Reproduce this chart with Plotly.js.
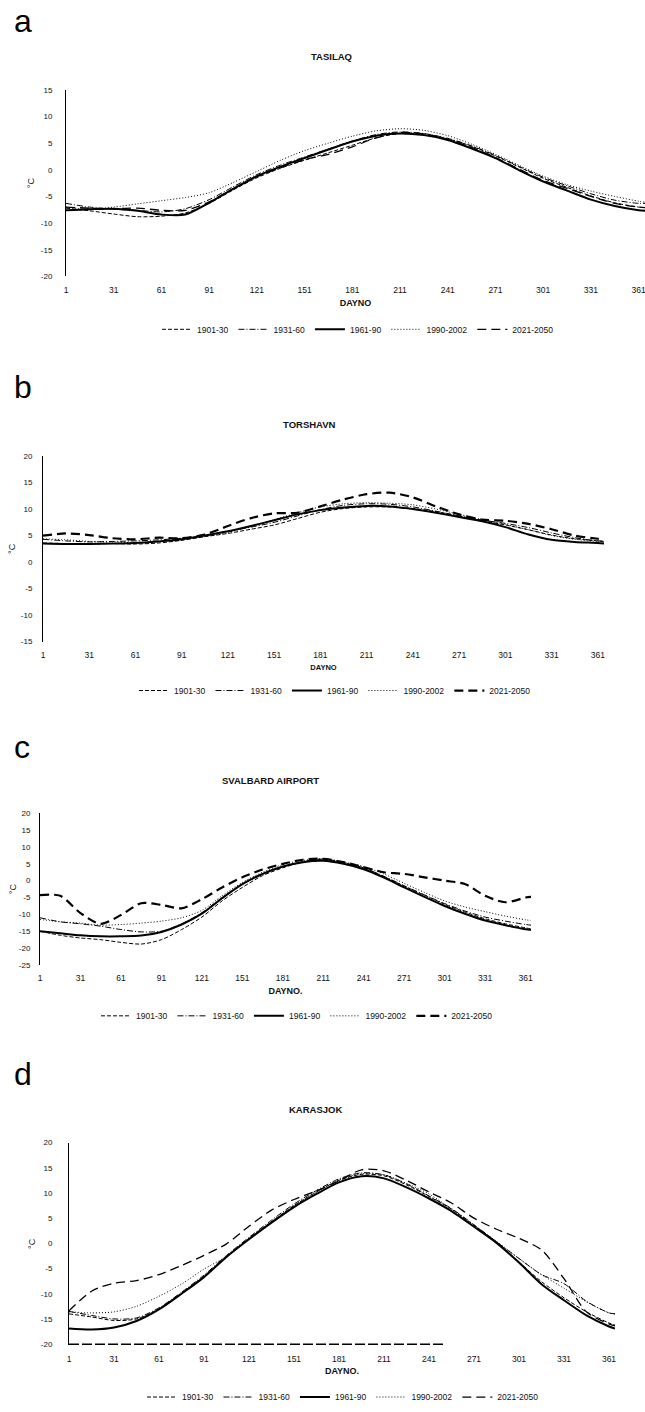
<!DOCTYPE html>
<html>
<head>
<meta charset="utf-8">
<script src="https://cdn.plot.ly/plotly-3.0.1.min.js"></script>
<style>
  html, body { margin: 0; padding: 0; background: #fff; }
  #chart { width: 645px; height: 1412px; }
</style>
</head>
<body>
<div id="chart"></div>
<script>
// day numbers the curves are sampled at
var days = [1, 16, 31, 46, 61, 76, 91, 106, 121, 136, 151, 166, 181, 196, 211, 226, 241, 256, 271, 286, 301, 316, 331, 346, 361, 365];
var dayTicks = [1, 31, 61, 91, 121, 151, 181, 211, 241, 271, 301, 331, 361];
var seriesNames = ["1901-30", "1931-60", "1961-90", "1990-2002", "2021-2050"];

// a  TASILAQ
var tasilaq1901 = [-7.2, -7.7, -8.3, -8.8, -8.7, -8.1, -6.3, -3.8, -1.5, 0.3, 1.8, 3.2, 4.6, 6.0, 6.8, 6.7, 5.8, 4.4, 2.6, 0.5, -1.6, -3.3, -4.9, -6.2, -7.0, -7.1];
var tasilaq1931 = [-6.3, -7.0, -7.4, -7.6, -7.9, -7.3, -5.6, -3.2, -0.9, 0.9, 2.4, 3.9, 5.4, 6.6, 7.1, 6.8, 5.9, 4.5, 2.7, 0.6, -1.4, -3.0, -4.5, -5.7, -6.3, -6.3];
var tasilaq1961 = [-7.6, -7.4, -7.3, -7.7, -8.4, -8.4, -6.2, -3.6, -1.2, 0.6, 2.2, 3.8, 5.3, 6.4, 6.8, 6.5, 5.6, 4.0, 2.2, -0.1, -2.2, -3.9, -5.6, -6.8, -7.6, -7.7];
var tasilaq1990 = [-7.0, -7.4, -7.0, -6.4, -5.8, -5.2, -4.3, -2.4, -0.3, 1.8, 3.6, 5.0, 6.3, 7.3, 7.7, 7.4, 6.4, 4.8, 2.9, 0.8, -1.2, -2.8, -4.0, -5.0, -5.9, -6.1];
var tasilaq2021 = [-7.0, -7.2, -7.3, -7.2, -7.6, -7.6, -6.0, -3.6, -1.3, 0.4, 1.9, 2.9, 4.3, 6.0, 7.0, 6.7, 5.7, 4.2, 2.3, 0.1, -2.0, -3.5, -5.0, -6.3, -7.0, -7.1];
var tasilaqTicks = [-20, -15, -10, -5, 0, 5, 10, 15];

// b  TORSHAVN
var torshavn1901 = [3.6, 3.5, 3.4, 3.5, 3.4, 3.6, 4.1, 4.8, 5.4, 6.2, 7.0, 8.2, 9.4, 10.1, 10.4, 10.4, 10.1, 9.5, 8.7, 7.8, 7.0, 6.1, 5.1, 4.4, 4.0, 3.8];
var torshavn1931 = [4.3, 4.0, 3.8, 3.9, 4.0, 4.2, 4.5, 5.0, 5.8, 6.6, 7.5, 8.7, 9.9, 10.7, 11.0, 10.9, 10.4, 9.6, 8.7, 7.9, 7.3, 6.5, 5.5, 4.6, 4.0, 4.0];
var torshavn1961 = [3.5, 3.4, 3.4, 3.5, 3.6, 3.9, 4.3, 5.0, 5.8, 6.8, 7.9, 9.0, 9.8, 10.3, 10.6, 10.5, 10.0, 9.3, 8.5, 7.7, 6.6, 5.2, 4.2, 3.8, 3.6, 3.5];
var torshavn1990 = [4.4, 4.2, 3.9, 3.8, 3.7, 3.9, 4.2, 4.8, 5.6, 6.8, 8.0, 9.3, 10.4, 11.0, 11.2, 11.1, 10.8, 10.0, 9.0, 8.0, 7.1, 6.1, 5.0, 4.3, 3.9, 3.9];
var torshavn2021 = [5.0, 5.4, 5.1, 4.5, 4.3, 4.6, 4.5, 5.2, 6.8, 8.3, 9.2, 9.3, 10.5, 11.8, 12.8, 13.1, 12.2, 10.5, 9.0, 8.0, 7.8, 7.2, 6.2, 5.0, 4.4, 4.3];
var torshavnTicks = [-15, -10, -5, 0, 5, 10, 15, 20];

// c  SVALBARD AIRPORT
var svalbard1901 = [-15.0, -16.2, -17.0, -17.5, -18.3, -18.8, -17.5, -14.5, -10.8, -6.0, -2.0, 1.5, 3.8, 5.6, 6.3, 5.3, 3.8, 1.2, -1.6, -4.3, -7.0, -9.3, -11.3, -12.8, -14.0, -14.3];
var svalbard1931 = [-11.0, -12.2, -12.8, -13.5, -14.5, -15.2, -15.0, -12.8, -9.5, -5.0, -1.0, 1.8, 4.2, 5.7, 6.4, 5.4, 3.8, 1.3, -1.5, -4.2, -6.8, -9.0, -10.8, -12.0, -13.0, -13.2];
var svalbard1961 = [-15.0, -15.6, -16.2, -16.5, -16.5, -16.3, -15.2, -13.0, -9.8, -5.2, -1.0, 2.0, 4.2, 5.5, 5.9, 5.0, 3.4, 0.9, -2.0, -4.8, -7.5, -9.8, -11.8, -13.2, -14.4, -14.6];
var svalbard1990 = [-11.5, -12.2, -12.6, -13.2, -13.0, -12.6, -12.0, -11.0, -8.8, -4.5, -0.5, 2.5, 4.8, 6.0, 6.5, 5.6, 4.2, 2.0, -0.8, -3.5, -6.0, -7.8, -9.2, -10.5, -11.6, -11.8];
var svalbard2021 = [-4.3, -4.5, -9.6, -12.8, -10.2, -6.7, -7.2, -8.2, -5.5, -2.0, 1.0, 3.3, 5.0, 6.2, 6.5, 5.5, 4.0, 2.5, 2.0, 1.0, 0.0, -1.0, -4.5, -6.4, -5.0, -4.8];
var svalbardTicks = [-25, -20, -15, -10, -5, 0, 5, 10, 15, 20];

// d  KARASJOK
var karasjok1901 = [-14.0, -14.6, -15.3, -15.0, -13.0, -9.9, -6.5, -2.6, 1.0, 4.3, 7.5, 10.2, 12.5, 13.7, 13.4, 11.6, 9.3, 6.8, 3.6, 0.3, -3.7, -7.6, -10.8, -13.6, -15.8, -16.2];
var karasjok1931 = [-13.5, -14.3, -15.0, -14.8, -12.8, -9.7, -6.3, -2.4, 1.2, 4.6, 7.8, 10.5, 12.8, 14.0, 13.6, 11.8, 9.4, 6.9, 3.7, 0.3, -3.0, -6.2, -8.0, -11.5, -13.8, -14.0];
var karasjok1961 = [-16.9, -17.1, -16.7, -15.4, -13.1, -10.0, -6.7, -2.7, 0.8, 4.1, 7.2, 9.8, 12.1, 13.3, 12.9, 11.1, 8.9, 6.4, 3.3, 0.1, -3.8, -8.1, -11.3, -14.3, -16.5, -16.9];
var karasjok1990 = [-13.6, -13.8, -13.6, -12.5, -10.5, -8.1, -5.1, -2.6, 0.9, 4.3, 7.5, 10.2, 12.6, 13.8, 13.6, 11.9, 9.8, 6.8, 3.5, 0.4, -3.0, -6.2, -8.9, -11.6, -13.8, -14.0];
var karasjok2021 = [-13.4, -9.5, -7.9, -7.4, -6.2, -4.4, -2.4, -0.1, 3.4, 6.6, 8.7, 10.4, 12.4, 14.6, 14.4, 12.5, 10.2, 8.0, 5.0, 2.8, 1.0, -1.3, -7.0, -13.6, -16.0, -16.4];
var karasjokTicks = [-20, -15, -10, -5, 0, 5, 10, 15, 20];
// broken line along the bottom of panel d
var karasjokBaseDays = [1, 252];
var karasjokBaseTemp = [-20, -20];

var W = 645, H = 1412;
function fx(p) { return p / W; }
function fy(p) { return 1 - p / H; }

var dashes = ["4px,2px", "6px,2px,1px,2px", "solid", "1px,2px", "9px,5px"];

// pixel layout of the four stacked panels
var panels = [
  { letter: "a", letterY: 21, title: "TASILAQ", titleX: 331, titleY: 57,
    series: [tasilaq1901, tasilaq1931, tasilaq1961, tasilaq1990, tasilaq2021], yTicks: tasilaqTicks,
    x0: 66, x1: 645, y0: 90, y1: 277, yGap: 11, titleGap: 4, dayName: "DAYNO", daySize: 9,
    legX: 358, legY: 330, lastWidth: 1.3, pad: 0 },
  { letter: "b", letterY: 388, title: "TORSHAVN", titleX: 309, titleY: 425,
    series: [torshavn1901, torshavn1931, torshavn1961, torshavn1990, torshavn2021], yTicks: torshavnTicks,
    x0: 43, x1: 604, y0: 457, y1: 643, yGap: 8, titleGap: 3, dayName: "DAYNO", daySize: 7.5,
    legX: 335, legY: 692, lastWidth: 2.2, pad: 0 },
  { letter: "c", letterY: 749, title: "SVALBARD AIRPORT", titleX: 270, titleY: 782,
    series: [svalbard1901, svalbard1931, svalbard1961, svalbard1990, svalbard2021], yTicks: svalbardTicks,
    x0: 40, x1: 531, y0: 815, y1: 967, yGap: 7, titleGap: 0, dayName: "DAYNO.", daySize: 9,
    legX: 297, legY: 1018, lastWidth: 2.2, pad: 0 },
  { letter: "d", letterY: 1076, title: "KARASJOK", titleX: 315, titleY: 1112,
    series: [karasjok1901, karasjok1931, karasjok1961, karasjok1990, karasjok2021], yTicks: karasjokTicks,
    x0: 69, x1: 615, y0: 1145, y1: 1348, yGap: 14, titleGap: 3, dayName: "DAYNO.", daySize: 9,
    legX: 343, legY: 1400, lastWidth: 1.3, pad: 0.2 }
];

var font = "Liberation Sans, Arial, sans-serif";
var data = [];
var layout = {
  width: W, height: H,
  margin: { l: 0, r: 0, t: 0, b: 0 },
  paper_bgcolor: "#fff", plot_bgcolor: "rgba(0,0,0,0)",
  font: { family: font, color: "#111", size: 8.5 },
  showlegend: true,
  annotations: []
};

panels.forEach(function (p, i) {
  var n = i === 0 ? "" : String(i + 1);
  var legName = "legend" + n;

  p.series.forEach(function (vals, k) {
    var w = 1;
    if (k === 2) w = 2;
    if (k === 4) w = p.lastWidth;
    data.push({
      type: "scatter", mode: "lines",
      x: days, y: vals,
      name: seriesNames[k],
      xaxis: "x" + n, yaxis: "y" + n,
      legend: legName,
      hoverinfo: "skip",
      line: { color: "#000", width: w, dash: dashes[k], shape: "spline", smoothing: 0.8 }
    });
  });

  layout["xaxis" + n] = {
    domain: [fx(p.x0), fx(p.x1)], anchor: "y" + n,
    range: [1, 365], tickvals: dayTicks, ticktext: dayTicks.map(String),
    showline: false, showgrid: false, zeroline: false, ticks: "",
    ticklabelstandoff: 7, ticklabeloverflow: "allow", automargin: false, fixedrange: true,
    tickfont: { size: 8.5, color: "#111" },
    title: { text: p.dayName, standoff: 5, font: { size: p.daySize, color: "#111", weight: "bold" } }
  };
  layout["yaxis" + n] = {
    domain: [fy(p.y1), fy(p.y0)], anchor: "x" + n,
    range: [p.yTicks[0] - p.pad, p.yTicks[p.yTicks.length - 1]],
    tickvals: p.yTicks, ticktext: p.yTicks.map(String),
    showline: true, linecolor: "#000", linewidth: 1,
    showgrid: false, zeroline: false, ticks: "",
    ticklabelstandoff: p.yGap, automargin: false, fixedrange: true,
    tickfont: { size: 8, color: "#111" },
    title: { text: "°C", standoff: p.titleGap, font: { size: 9, color: "#111" } }
  };
  layout[legName] = {
    orientation: "h", x: fx(p.legX), y: fy(p.legY),
    xanchor: "center", yanchor: "middle",
    bgcolor: "rgba(0,0,0,0)", itemwidth: 30, itemclick: false, itemdoubleclick: false,
    font: { size: 8.5, color: "#111" }, tracegroupgap: 0
  };

  layout.annotations.push({
    xref: "paper", yref: "paper", x: fx(12), y: fy(p.letterY),
    xanchor: "left", yanchor: "middle", showarrow: false,
    text: p.letter, font: { size: 32, color: "#000" }
  });
  layout.annotations.push({
    xref: "paper", yref: "paper", x: fx(p.titleX), y: fy(p.titleY),
    xanchor: "center", yanchor: "middle", showarrow: false,
    text: "<b>" + p.title + "</b>", font: { size: 9.5, color: "#111" }
  });
});

data.push({
  type: "scatter", mode: "lines",
  x: karasjokBaseDays, y: karasjokBaseTemp,
  xaxis: "x4", yaxis: "y4", legend: "legend4",
  showlegend: false, hoverinfo: "skip",
  line: { color: "#000", width: 1.5, dash: "10px,3px" }
});

Plotly.newPlot("chart", data, layout, { staticPlot: true, displayModeBar: false });
</script>
</body>
</html>
